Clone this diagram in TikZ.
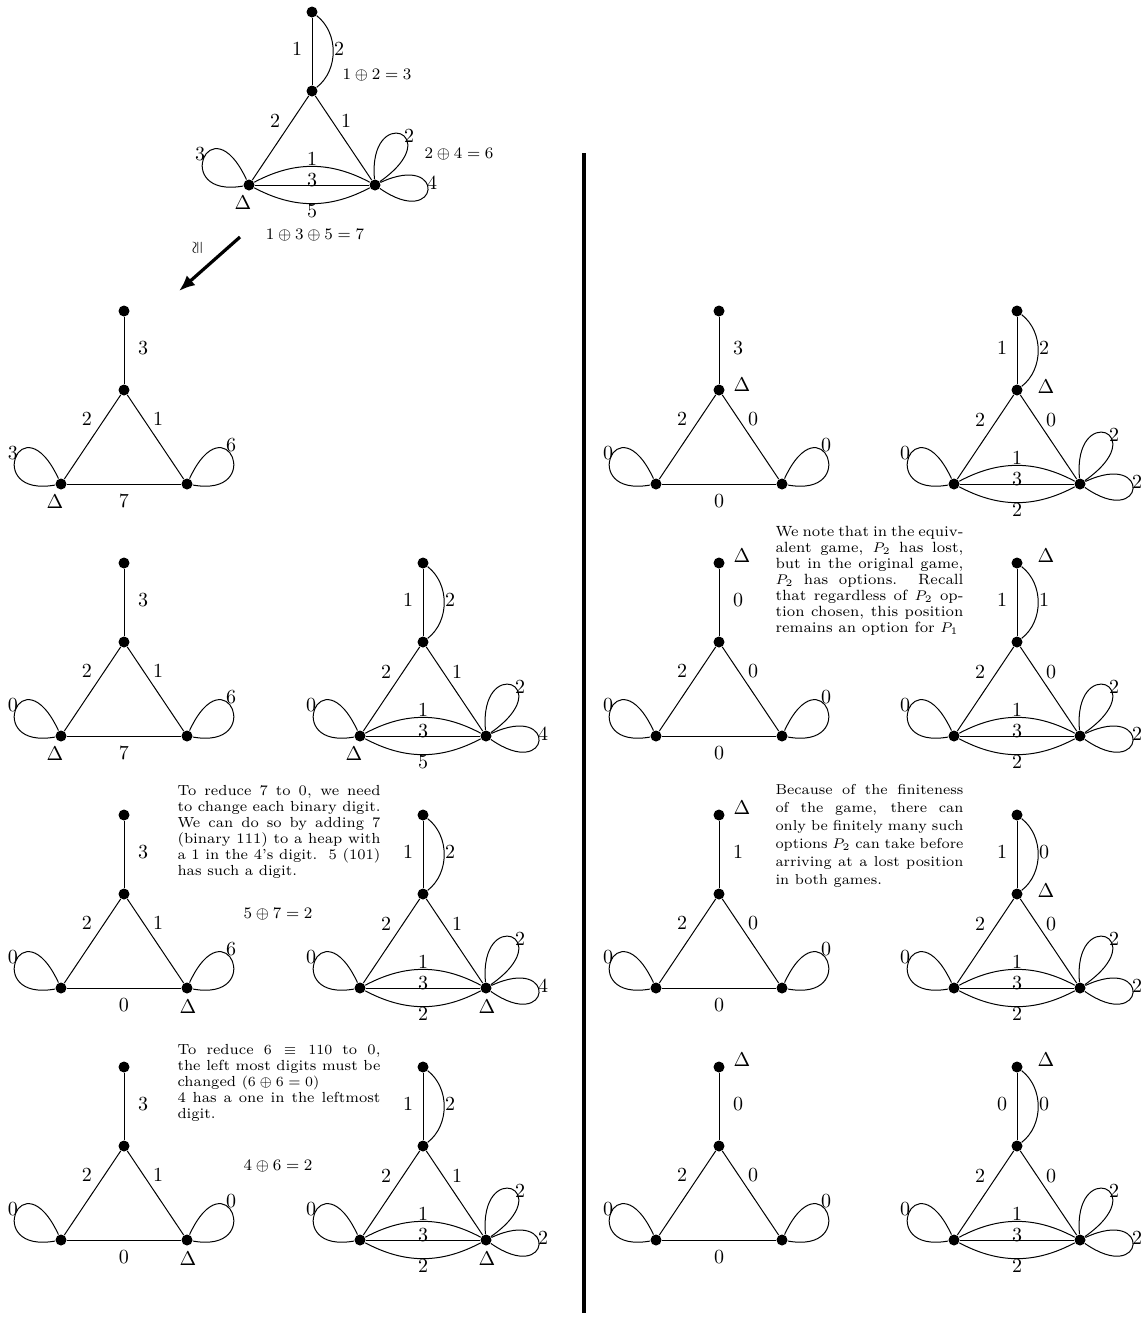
\documentclass[tikz,border=0pt]{standalone}
\usetikzlibrary{calc,arrows.meta}
\tikzset{
  dot/.style={circle,fill=black,inner sep=0pt,minimum size=5.5pt},
  lab/.style={inner sep=0pt,font=\normalsize},
  eqn/.style={inner sep=0pt,font=\fontsize{8.5}{10}\selectfont},
  txt/.style={inner sep=0pt,anchor=north west},
}
\newcommand\leftloop[1]{\draw (#1) .. controls +(190:80) and +(115:93) .. (#1);}
\newcommand\simpG[3]{%
  \node[dot] (#1t) at (#2,-#3) {};
  \node[dot] (#1m) at ($(#1t)+(0,-79)$) {};
  \node[dot] (#1l) at ($(#1m)+(-63,-94)$) {};
  \node[dot] (#1r) at ($(#1m)+(63,-94)$) {};
  \draw (#1t) -- (#1m);
  \draw (#1m) -- (#1l);
  \draw (#1m) -- (#1r);
  \draw (#1l) -- (#1r);
  \leftloop{#1l}
  \draw (#1r) .. controls +(-10:80) and +(65:93) .. (#1r);
}
\newcommand\multG[3]{%
  \node[dot] (#1t) at (#2,-#3) {};
  \node[dot] (#1m) at ($(#1t)+(0,-79)$) {};
  \node[dot] (#1l) at ($(#1m)+(-63,-94)$) {};
  \node[dot] (#1r) at ($(#1m)+(63,-94)$) {};
  \draw (#1t) -- (#1m);
  \draw (#1t) to[bend left=52] (#1m);
  \draw (#1m) -- (#1l);
  \draw (#1m) -- (#1r);
  \draw (#1l) -- (#1r);
  \draw (#1l) to[bend left=28] (#1r);
  \draw (#1l) to[bend right=28] (#1r);
  \leftloop{#1l}
  \draw (#1r) .. controls +(95:82) and +(35:90) .. (#1r);
  \draw (#1r) .. controls +(25:80) and +(-35:80) .. (#1r);
}
\newcommand\simpL[7]{%
  \node[lab] (#1va) at ($(#1t)+(19,-37)$) {#2};
  \node[lab] (#1la) at ($(#1m)+(-37,-29)$) {#3};
  \node[lab] (#1ra) at ($(#1m)+(34,-29)$) {#4};
  \node[lab] (#1ba) at ($(#1l)!0.5!(#1r)+(0,-17)$) {#5};
  \node[lab] (#1lo) at ($(#1l)+(-48,31)$) {#6};
  \node[lab] (#1ro) at ($(#1r)+(44,39)$) {#7};
}
\newcommand\multLa[6]{%
  \node[lab] (#1va) at ($(#1t)+(-15,-37)$) {#2};
  \node[lab] (#1vb) at ($(#1t)+(27,-37)$) {#3};
  \node[lab] (#1la) at ($(#1m)+(-37,-30)$) {#4};
  \node[lab] (#1ra) at ($(#1m)+(34,-30)$) {#5};
  \node[lab] (#1lo) at ($(#1l)+(-49,31)$) {#6};
}
\newcommand\multLb[6]{%
  \node[lab] (#1aa) at ($(#1l)!0.5!(#1r)+(0,26)$) {#2};
  \node[lab] (#1ab) at ($(#1l)!0.5!(#1r)+(0,5)$) {#3};
  \node[lab] (#1ac) at ($(#1l)!0.5!(#1r)+(0,-26)$) {#4};
  \node[lab] (#1ro) at ($(#1r)+(34,49)$) {#5};
  \node[lab] (#1rp) at ($(#1r)+(57,2)$) {#6};
}
\newcommand\delt[3]{%
  \node[lab] (#1) at ($(#2)+#3$) {$\Delta$};
}
\newlength\tw
\newcommand\jl[1]{\hbox to \tw{#1}}
\begin{document}
\begin{tikzpicture}[x=0.5pt,y=0.5pt,line width=0.5pt]
\useasboundingbox (0,0) rectangle (1143,-1319);

% top graph
\multG{T}{312}{12}
\multLa{T}{1}{2}{2}{1}{3}
\multLb{T}{1}{3}{5}{2}{4}
\delt{TD}{Tl}{(-6,-18)}
\node[eqn] (Te1) at (377,-75) {$1\oplus 2=3$};
\node[eqn] (Te2) at (459,-154) {$2\oplus 4=6$};
\node[eqn] (Te3) at (315,-235) {$1\oplus 3\oplus 5=7$};

% arrow
\coordinate (arrS) at (240,-237);
\coordinate (arrE) at (179,-291);
\draw[line width=1.6pt,-{Latex[length=8pt,width=6.5pt]}] (arrS) -- (arrE);
\node[lab,rotate=90] (cong) at (198,-248) {\footnotesize$\cong$};

% separator
\coordinate (barT) at (584,-153);
\coordinate (barB) at (584,-1313);
\draw[line width=2.4pt] (barT) -- (barB);

% left column
\simpG{Aa}{124}{311}
\simpL{Aa}{3}{2}{1}{7}{3}{6}
\delt{AaD}{Aal}{(-6,-18)}

\simpG{Ab}{124}{563}
\simpL{Ab}{3}{2}{1}{7}{0}{6}
\delt{AbD}{Abl}{(-6,-18)}
\multG{Bb}{423}{563}
\multLa{Bb}{1}{2}{2}{1}{0}
\multLb{Bb}{1}{3}{5}{2}{4}
\delt{BbD}{Bbl}{(-6,-18)}

\simpG{Ac}{124}{815}
\simpL{Ac}{3}{2}{1}{0}{0}{6}
\delt{AcD}{Acr}{(1,-19)}
\multG{Bc}{423}{815}
\multLa{Bc}{1}{2}{2}{1}{0}
\multLb{Bc}{1}{3}{2}{2}{4}
\delt{BcD}{Bcr}{(1,-19)}

\simpG{Ad}{124}{1067}
\simpL{Ad}{3}{2}{1}{0}{0}{0}
\delt{AdD}{Adr}{(1,-19)}
\multG{Bd}{423}{1067}
\multLa{Bd}{1}{2}{2}{1}{0}
\multLb{Bd}{1}{3}{2}{2}{2}
\delt{BdD}{Bdr}{(1,-19)}

\node[txt] (tx1) at (177,-785) {\vbox{\tw=101.5pt
 \fontsize{7.3}{8}\selectfont
 \jl{To reduce 7 to 0, we need}
 \jl{to change each binary digit.}
 \jl{We can do so by adding 7}
 \jl{(binary 111) to a heap with}
 \jl{a 1 in the 4's digit.\ \ 5 (101)}
 \hbox{has such a digit.}}};
\node[eqn] (eq1) at (278,-914) {$5\oplus 7=2$};

\node[txt] (tx2) at (177,-1044) {\vbox{\tw=101.5pt
 \fontsize{7.3}{8}\selectfont
 \jl{To reduce $6\mathrel{\equiv}110$ to 0,}
 \jl{the left most digits must be}
 \hbox{changed $(6\oplus 6=0)$}
 \jl{4 has a one in the leftmost}
 \hbox{digit.}}};
\node[eqn] (eq2) at (278,-1166) {$4\oplus 6=2$};

% right column
\simpG{Ca}{719}{311}
\simpL{Ca}{3}{2}{0}{0}{0}{0}
\delt{CaD}{Cam}{(23,5)}
\multG{Da}{1017}{311}
\multLa{Da}{1}{2}{2}{0}{0}
\multLb{Da}{1}{3}{2}{2}{2}
\delt{DaD}{Dam}{(29,3)}

\simpG{Cb}{719}{563}
\simpL{Cb}{0}{2}{0}{0}{0}{0}
\delt{CbD}{Cbt}{(23,7)}
\multG{Db}{1017}{563}
\multLa{Db}{1}{1}{2}{0}{0}
\multLb{Db}{1}{3}{2}{2}{2}
\delt{DbD}{Dbt}{(29,7)}

\simpG{Cc}{719}{815}
\simpL{Cc}{1}{2}{0}{0}{0}{0}
\delt{CcD}{Cct}{(23,7)}
\multG{Dc}{1017}{815}
\multLa{Dc}{1}{0}{2}{0}{0}
\multLb{Dc}{1}{3}{2}{2}{2}
\delt{DcD}{Dcm}{(29,3)}

\simpG{Cd}{719}{1067}
\simpL{Cd}{0}{2}{0}{0}{0}{0}
\delt{CdD}{Cdt}{(23,7)}
\multG{Dd}{1017}{1067}
\multLa{Dd}{0}{0}{2}{0}{0}
\multLb{Dd}{1}{3}{2}{2}{2}
\delt{DdD}{Ddt}{(29,7)}

\node[txt] (tx3) at (775,-526) {\vbox{\tw=94pt
 \fontsize{7.4}{8}\selectfont
 \jl{We note that in the equiv-}
 \jl{alent game, $P_2$ has lost,}
 \jl{but in the original game,}
 \jl{$P_2$ has options.\ \ Recall}
 \jl{that regardless of $P_2$ op-}
 \jl{tion chosen, this position}
 \hbox{remains an option for $P_1$}}};

\node[txt] (tx4) at (775,-784) {\vbox{\tw=94pt
 \fontsize{7.2}{9}\selectfont
 \jl{Because of the finiteness}
 \jl{of the game, there can}
 \jl{only be finitely many such}
 \jl{options $P_2$ can take before}
 \jl{arriving at a lost position}
 \hbox{in both games.}}};
\end{tikzpicture}
\end{document}
